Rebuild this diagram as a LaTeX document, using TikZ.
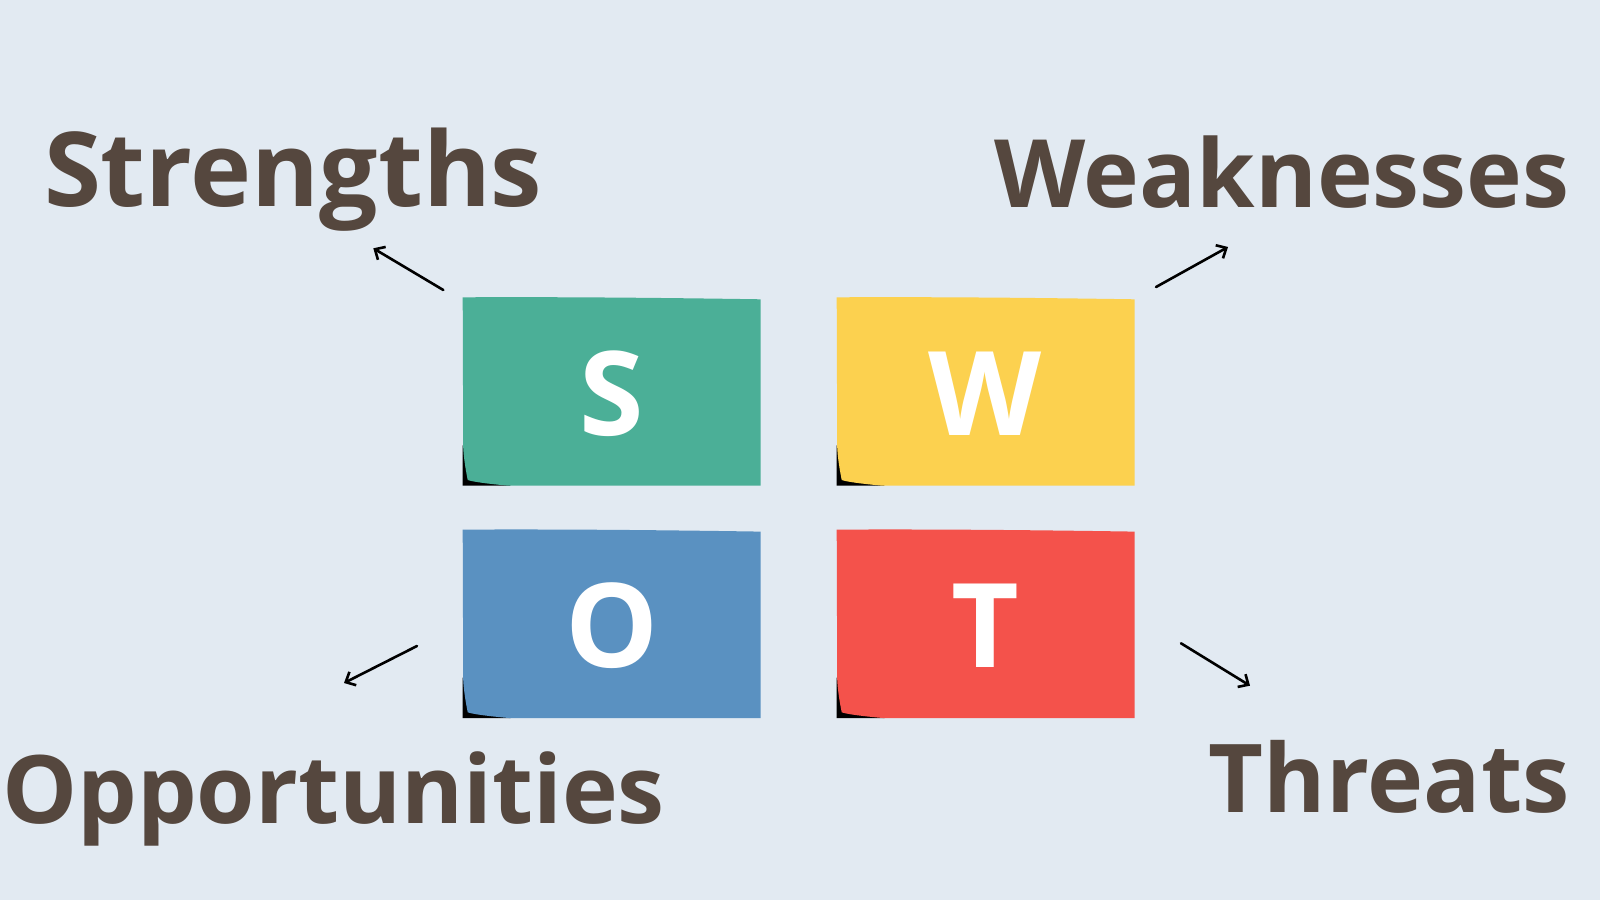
\documentclass[tikz,border=0pt]{standalone}
\usepackage{fontspec}
\setmainfont{Open Sans}
\usetikzlibrary{arrows.meta}
\definecolor{bgc}{HTML}{E2EAF2}
\definecolor{txtc}{HTML}{55473E}
\definecolor{tealc}{HTML}{4BAF97}
\definecolor{yellowc}{HTML}{FCD14F}
\definecolor{bluec}{HTML}{5A91C1}
\definecolor{redc}{HTML}{F4524B}
\tikzset{
  label/.style={inner sep=0pt, outer sep=0pt, text=txtc, font=\bfseries\fontsize{#1}{#1}\selectfont},
  letter/.style={inner sep=0pt, outer sep=0pt, text=white, anchor=base, font=\bfseries\fontsize{117}{117}\selectfont},
  pointer/.style={line width=2.6pt, black, line cap=round, -{Straight Barb[length=8pt,width=15pt,line width=2.6pt]}},
}
\newcommand{\stickynote}[3]{%
  \begin{scope}[shift={(#1,#2)}]
    \fill[black] (0,148) -- (0,188.4) -- (48,188.4) -- cycle;
    \fill[#3] (0,0) .. controls (100,-0.5) and (200,0.5) .. (298,2)
      -- (298,188.4) -- (46,188.4)
      .. controls (25,186.5) and (10,184.5) .. (5,182.7)
      .. controls (2.5,170) and (1,160) .. (0.5,150)
      -- cycle;
  \end{scope}}
\begin{document}
\begin{tikzpicture}[x=1pt,y=-1pt]
  \fill[bgc] (0,0) rectangle (1600,900);
  \useasboundingbox (0,0) rectangle (1600,900);
  % notes
  \stickynote{462.7}{297.3}{tealc}
  \stickynote{836.7}{297.3}{yellowc}
  \stickynote{462.7}{529.6}{bluec}
  \stickynote{836.7}{529.6}{redc}
  % letters
  \node[letter] (S) at (611.7,435.5) {S};
  \node[letter] (W) at (985.5,435.5) {W};
  \node[letter] (O) at (611.7,667.7) {O};
  \node[letter] (T) at (985.5,667.7) {T};
  % labels
  \node[label=103.4, anchor=base west] (strengths) at (44,206) {Strengths};
  \node[label=94.4, anchor=base east] (weaknesses) at (1569.5,207) {Weaknesses};
  \node[label=94.5, anchor=base west] (opportunities) at (2,823) {Opportunities};
  \node[label=95, anchor=base east] (threats) at (1569.5,812) {Threats};
  % arrow end points
  \coordinate (sA) at (443.3,290);
  \coordinate (sB) at (373.3,248.3);
  \coordinate (wA) at (1156,287);
  \coordinate (wB) at (1228,247);
  \coordinate (oA) at (417,646);
  \coordinate (oB) at (344,683);
  \coordinate (tA) at (1181,643.3);
  \coordinate (tB) at (1250,685.7);
  \draw[pointer] (sA) -- (sB);
  \draw[pointer] (wA) -- (wB);
  \draw[pointer] (oA) -- (oB);
  \draw[pointer] (tA) -- (tB);
\end{tikzpicture}
\end{document}
